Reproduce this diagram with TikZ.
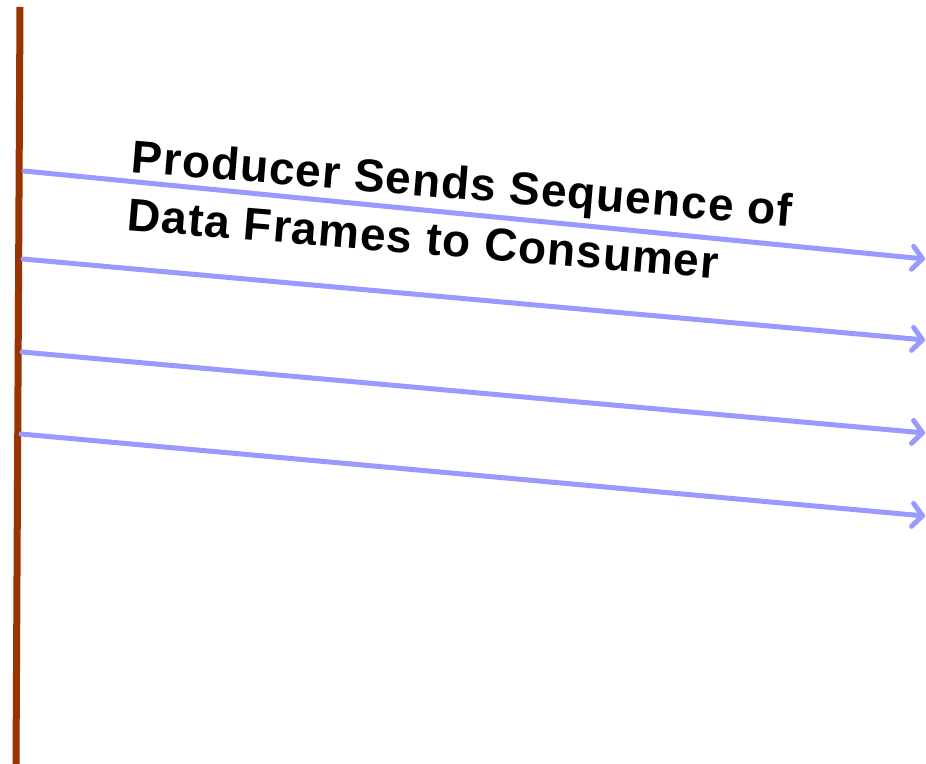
\documentclass[tikz,border=0pt]{standalone}
\usepackage{fontspec}
\setmainfont{Liberation Sans}
\newfontfamily\labelfont[LetterSpace=2.3]{Liberation Sans}
\usetikzlibrary{arrows.meta}
\definecolor{lifeline}{HTML}{993300}
\definecolor{frame}{HTML}{9999FF}
\tikzset{
  timeline/.style={draw=lifeline, line width=7pt},
  framemsg/.style={draw=frame, line width=5pt, line cap=round, line join=round,
    -{Straight Barb[length=10pt,width=23pt,line cap=round,line join=round]}},
  caption/.style={font=\labelfont\bfseries\fontsize{46}{55}\selectfont, inner sep=0pt,
    anchor=base west, rotate=-4.7}
}
\begin{document}
\begin{tikzpicture}[x=1pt,y=-1pt]
  \useasboundingbox (0,0) rectangle (926,763);
  % producer time line
  \coordinate (top) at (20,7);
  \coordinate (bottom) at (16,766);
  \draw[timeline] (top) -- (bottom);
  % start and end points of the data frames
  \coordinate (s1) at (24,171);  \coordinate (e1) at (925,259);
  \coordinate (s2) at (23,259);  \coordinate (e2) at (925,340);
  \coordinate (s3) at (22,352);  \coordinate (e3) at (925,433);
  \coordinate (s4) at (21,434);  \coordinate (e4) at (925,516);
  \draw[framemsg] (s1) -- (e1);
  \draw[framemsg] (s2) -- (e2);
  \draw[framemsg] (s3) -- (e3);
  \draw[framemsg] (s4) -- (e4);
  % label
  \node[caption] (line1) at (130.5,172) {Producer Sends Sequence of};
  \node[caption] (line2) at (126.5,230) {Data Frames to Consumer};
\end{tikzpicture}
\end{document}
